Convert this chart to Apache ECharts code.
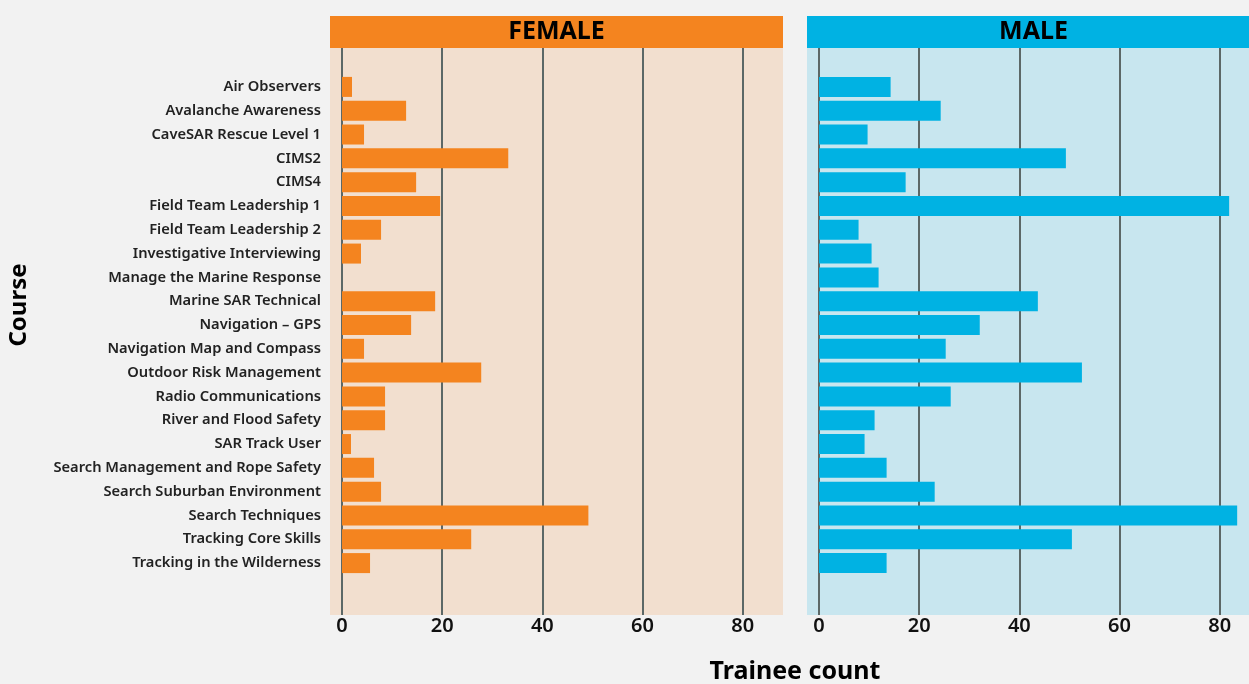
<!DOCTYPE html>
<html><head><meta charset="utf-8">
<script src="https://cdn.jsdelivr.net/npm/echarts@6/dist/echarts.min.js"></script>
<style>html,body{margin:0;padding:0;background:#f2f2f2;}#c{width:1249px;height:684px;}</style>
</head><body><div id="c"></div>
<script>
const courses = ["Air Observers","Avalanche Awareness","CaveSAR Rescue Level 1","CIMS2","CIMS4","Field Team Leadership 1","Field Team Leadership 2","Investigative Interviewing","Manage the Marine Response","Marine SAR Technical","Navigation – GPS","Navigation Map and Compass","Outdoor Risk Management","Radio Communications","River and Flood Safety","SAR Track User","Search Management and Rope Safety","Search Suburban Environment","Search Techniques","Tracking Core Skills","Tracking in the Wilderness"];
const female = [2, 12.8, 4.4, 33.2, 14.8, 19.6, 7.8, 3.8, 0, 18.6, 13.8, 4.4, 27.8, 8.6, 8.6, 1.8, 6.4, 7.8, 49.2, 25.8, 5.6];
const male = [14.3, 24.3, 9.7, 49.3, 17.3, 81.9, 7.9, 10.5, 11.9, 43.7, 32.1, 25.3, 52.5, 26.3, 11.1, 9.1, 13.5, 23.1, 83.5, 50.5, 13.5];
const panels = ["FEMALE", "MALE"];
const ticks = [0, 20, 40, 60, 80];

const FONT = "Noto Sans";
const PPU = 5.008; // pixels per unit
const chart = echarts.init(document.getElementById('c'));
const px = [{bgL:330, gl:342, barW:441, color:'#f4841f', bg:'#f2dfcf'}, {bgL:807, gl:819, barW:430, color:'#00b2e3', bg:'#c8e6ef'}];
const grids = [], xAxes = [], yAxes = [], series = [], graphics = [];
px.forEach((p, i) => {
  const tmax = ticks[ticks.length-1];
  grids.push({left:p.gl, width:tmax*PPU, top:48, height:567, containLabel:false});
  grids.push({left:p.gl, width:p.barW, top:75, height:500, containLabel:false});
  xAxes.push({gridIndex:2*i, type:'value', min:0, max:tmax, interval:20,
    axisLine:{show:false}, axisTick:{show:false},
    axisLabel:{show:true, margin:1, fontFamily:FONT, fontSize:20, fontWeight:600, color:'#111'},
    splitLine:{show:true, lineStyle:{color:'#5c6867', width:2}}});
  xAxes.push({gridIndex:2*i+1, type:'value', min:0, max:p.barW/PPU, show:false, splitLine:{show:false}});
  yAxes.push({gridIndex:2*i, type:'category', data:courses, show:false, inverse:true});
  yAxes.push({gridIndex:2*i+1, type:'category', data:courses, inverse:true,
    axisLine:{show:false}, axisTick:{show:false},
    axisLabel:{show:i===0, margin:21, fontFamily:FONT, fontSize:14.7, fontWeight:600, color:'#222'}});
  series.push({type:'bar', xAxisIndex:2*i+1, yAxisIndex:2*i+1, data: i===0?female:male,
    barWidth:20, itemStyle:{color:p.color}, silent:true, animation:false});
  graphics.push({type:'rect', z:-10, shape:{x:p.bgL, y:48, width:453, height:567}, style:{fill:p.bg}});
  graphics.push({type:'rect', z:-10, shape:{x:p.bgL, y:16, width:453, height:32}, style:{fill:p.color}});
  graphics.push({type:'text', z:10, x:p.bgL+226.5, y:32, style:{text:panels[i], fill:'#000', font:'700 25px "'+FONT+'"', align:'center', verticalAlign:'middle'}});
});
graphics.push({type:'text', x:795, y:672, style:{text:'Trainee count', fill:'#000', font:'700 25px "'+FONT+'"', align:'center', verticalAlign:'middle'}});
graphics.push({type:'text', x:19, y:305, rotation:Math.PI/2, style:{text:'Course', fill:'#000', font:'700 24px "'+FONT+'"', align:'center', verticalAlign:'middle'}});

chart.setOption({
  backgroundColor:'#f2f2f2',
  animation:false,
  grid:grids, xAxis:xAxes, yAxis:yAxes, series:series, graphic:graphics
});
</script></body></html>
